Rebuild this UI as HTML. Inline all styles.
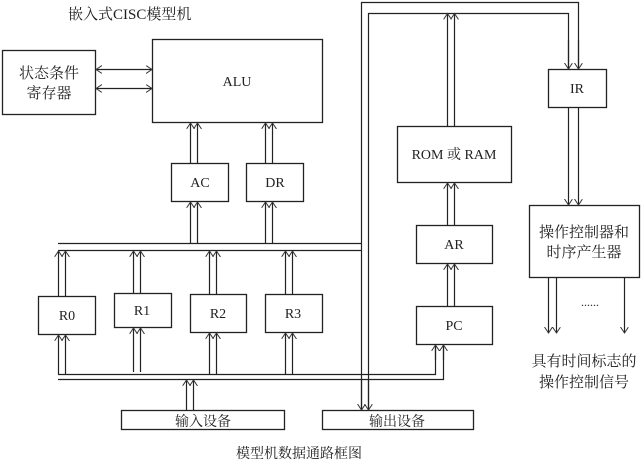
<!DOCTYPE html>
<html><head><meta charset="utf-8"><style>
html,body{margin:0;padding:0;background:#fff;}
svg{display:block;}
text{font-family:"Liberation Serif","Noto Serif CJK SC","Noto Sans CJK SC",serif;fill:#222;}
</style></head><body>
<svg width="644" height="465" viewBox="0 0 644 465" xmlns="http://www.w3.org/2000/svg">
<defs>
<marker id="a" markerUnits="userSpaceOnUse" markerWidth="10" markerHeight="10" refX="6" refY="4" orient="auto-start-reverse">
<path d="M0,0 L6,4 L0,8" fill="none" stroke="#333" stroke-width="1"/>
</marker>
</defs>
<g fill="none" stroke="#222" stroke-width="1.3">
<!-- boxes -->
<rect x="2.5" y="50.5" width="93" height="64"/>
<rect x="152.5" y="39.5" width="170" height="83"/>
<rect x="171.5" y="163.5" width="57" height="38"/>
<rect x="246.5" y="163.5" width="57" height="38"/>
<rect x="397.5" y="126.5" width="114" height="56"/>
<rect x="548.5" y="69.5" width="58" height="38"/>
<rect x="416.5" y="225.5" width="76" height="38"/>
<rect x="416.5" y="306.5" width="76" height="38"/>
<rect x="529.5" y="205.5" width="110" height="72"/>
<rect x="38.5" y="296.5" width="57" height="38"/>
<rect x="114.5" y="293.5" width="57" height="34"/>
<rect x="190.5" y="294.5" width="56" height="38"/>
<rect x="265.5" y="294.5" width="57" height="38"/>
<rect x="121.5" y="410.5" width="163" height="19"/>
<rect x="322.5" y="410.5" width="151" height="19"/>
</g>
<g fill="none" stroke="#222" stroke-width="1.2">
<!-- status <-> ALU -->
<line x1="96" y1="69.5" x2="152" y2="69.5" marker-start="url(#a)" marker-end="url(#a)"/>
<line x1="96" y1="88.5" x2="152" y2="88.5" marker-start="url(#a)" marker-end="url(#a)"/>
<!-- AC/DR to ALU -->
<line x1="190.5" y1="163" x2="190.5" y2="123" marker-end="url(#a)"/>
<line x1="197.5" y1="163" x2="197.5" y2="123" marker-end="url(#a)"/>
<line x1="265.5" y1="163" x2="265.5" y2="123" marker-end="url(#a)"/>
<line x1="272.5" y1="163" x2="272.5" y2="123" marker-end="url(#a)"/>
<!-- bus to AC/DR -->
<line x1="190.5" y1="243" x2="190.5" y2="202" marker-end="url(#a)"/>
<line x1="197.5" y1="243" x2="197.5" y2="202" marker-end="url(#a)"/>
<line x1="265.5" y1="243" x2="265.5" y2="202" marker-end="url(#a)"/>
<line x1="272.5" y1="243" x2="272.5" y2="202" marker-end="url(#a)"/>
<!-- upper buses -->
<line x1="58" y1="243.5" x2="361" y2="243.5"/>
<line x1="58" y1="250.5" x2="361" y2="250.5"/>
<!-- main vertical -->
<polyline points="361.5,410 361.5,2.5 578.5,2.5 578.5,69" />
<polyline points="368.5,410 368.5,13.5 568.5,13.5 568.5,69"/>
<line x1="361.5" y1="380" x2="361.5" y2="410" marker-end="url(#a)"/>
<line x1="368.5" y1="380" x2="368.5" y2="410" marker-end="url(#a)"/>
<line x1="568.5" y1="40" x2="568.5" y2="69" marker-end="url(#a)"/>
<line x1="578.5" y1="40" x2="578.5" y2="69" marker-end="url(#a)"/>
<!-- ROM to top bus -->
<line x1="447.5" y1="126" x2="447.5" y2="13.5" marker-end="url(#a)"/>
<line x1="454.5" y1="126" x2="454.5" y2="13.5" marker-end="url(#a)"/>
<!-- AR->ROM, PC->AR -->
<line x1="447.5" y1="225" x2="447.5" y2="183" marker-end="url(#a)"/>
<line x1="454.5" y1="225" x2="454.5" y2="183" marker-end="url(#a)"/>
<line x1="447.5" y1="306" x2="447.5" y2="264" marker-end="url(#a)"/>
<line x1="454.5" y1="306" x2="454.5" y2="264" marker-end="url(#a)"/>
<!-- IR -> control -->
<line x1="568.5" y1="108" x2="568.5" y2="205" marker-end="url(#a)"/>
<line x1="578.5" y1="108" x2="578.5" y2="205" marker-end="url(#a)"/>
<!-- control outputs -->
<line x1="548.5" y1="278" x2="548.5" y2="333" marker-end="url(#a)"/>
<line x1="556.5" y1="278" x2="556.5" y2="333" marker-end="url(#a)"/>
<line x1="624.5" y1="278" x2="624.5" y2="333" marker-end="url(#a)"/>
<!-- lower buses -->
<polyline points="58,374.5 435.5,374.5 435.5,345"/>
<polyline points="58,379.5 443.5,379.5 443.5,345"/>
<line x1="435.5" y1="360" x2="435.5" y2="345" marker-end="url(#a)"/>
<line x1="443.5" y1="360" x2="443.5" y2="345" marker-end="url(#a)"/>
<!-- registers up to bus -->
<line x1="58.5" y1="296" x2="58.5" y2="251" marker-end="url(#a)"/>
<line x1="65.5" y1="296" x2="65.5" y2="251" marker-end="url(#a)"/>
<line x1="133.5" y1="293" x2="133.5" y2="251" marker-end="url(#a)"/>
<line x1="140.5" y1="293" x2="140.5" y2="251" marker-end="url(#a)"/>
<line x1="209.5" y1="294" x2="209.5" y2="251" marker-end="url(#a)"/>
<line x1="216.5" y1="294" x2="216.5" y2="251" marker-end="url(#a)"/>
<line x1="285.5" y1="294" x2="285.5" y2="251" marker-end="url(#a)"/>
<line x1="292.5" y1="294" x2="292.5" y2="251" marker-end="url(#a)"/>
<!-- bus up to registers -->
<line x1="58.5" y1="374" x2="58.5" y2="335" marker-end="url(#a)"/>
<line x1="65.5" y1="374" x2="65.5" y2="335" marker-end="url(#a)"/>
<line x1="133.5" y1="372" x2="133.5" y2="328" marker-end="url(#a)"/>
<line x1="140.5" y1="372" x2="140.5" y2="328" marker-end="url(#a)"/>
<line x1="209.5" y1="374" x2="209.5" y2="333" marker-end="url(#a)"/>
<line x1="216.5" y1="374" x2="216.5" y2="333" marker-end="url(#a)"/>
<line x1="285.5" y1="374" x2="285.5" y2="333" marker-end="url(#a)"/>
<line x1="292.5" y1="374" x2="292.5" y2="333" marker-end="url(#a)"/>
<!-- input -> bus -->
<line x1="186.5" y1="410" x2="186.5" y2="380" marker-end="url(#a)"/>
<line x1="193.5" y1="410" x2="193.5" y2="380" marker-end="url(#a)"/>
</g>
<g font-size="14">
<text x="68" y="19" font-size="15">嵌入式CISC模型机</text>
<text x="49" y="78" text-anchor="middle" font-size="15">状态条件</text>
<text x="49" y="98" text-anchor="middle" font-size="15">寄存器</text>
<text x="237" y="86" text-anchor="middle">ALU</text>
<text x="200" y="187" text-anchor="middle">AC</text>
<text x="275" y="187" text-anchor="middle">DR</text>
<text x="454" y="159" text-anchor="middle">ROM 或 RAM</text>
<text x="577" y="93" text-anchor="middle">IR</text>
<text x="454" y="249" text-anchor="middle">AR</text>
<text x="454" y="330" text-anchor="middle">PC</text>
<text x="584" y="237" text-anchor="middle" font-size="15">操作控制器和</text>
<text x="584" y="257" text-anchor="middle" font-size="15">时序产生器</text>
<text x="590" y="306" text-anchor="middle" font-size="12">......</text>
<text x="584" y="366" text-anchor="middle" font-size="15">具有时间标志的</text>
<text x="584" y="387" text-anchor="middle" font-size="15">操作控制信号</text>
<text x="67" y="320" text-anchor="middle">R0</text>
<text x="142" y="315" text-anchor="middle">R1</text>
<text x="218" y="318" text-anchor="middle">R2</text>
<text x="293" y="318" text-anchor="middle">R3</text>
<text x="203" y="426" text-anchor="middle">输入设备</text>
<text x="397" y="426" text-anchor="middle">输出设备</text>
<text x="299" y="458" text-anchor="middle">模型机数据通路框图</text>
</g>
</svg>
</body></html>
